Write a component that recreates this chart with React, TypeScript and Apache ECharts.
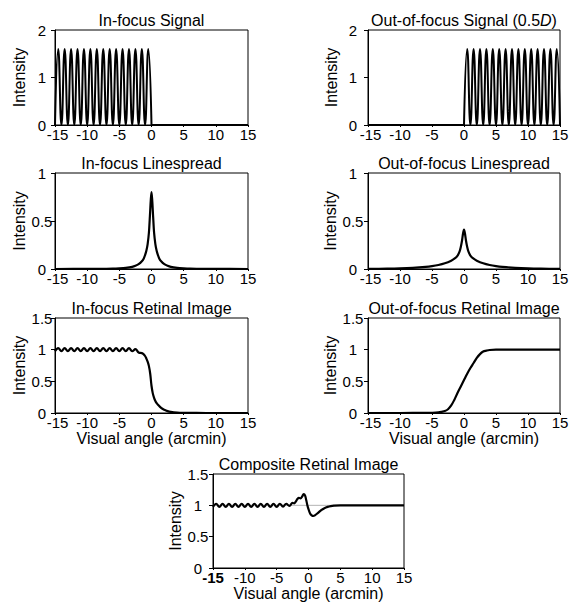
import React, { useEffect, useRef } from "react";
import * as echarts from "echarts";

// ---------- DATA ----------
const xTicks = [-15, -10, -5, 0, 5, 10, 15];

// In-focus signal: grating from -15 to 0 (peaks at half-integers), flat afterwards
const inFocusSignalX = [-15, -14.5, -14, -13.5, -13, -12.5, -12, -11.5, -11, -10.5, -10, -9.5, -9, -8.5, -8, -7.5, -7, -6.5, -6, -5.5, -5, -4.5, -4, -3.5, -3, -2.5, -2, -1.5, -1, -0.5, 0];
const inFocusSignalY = [0, 1.6, 0, 1.6, 0, 1.6, 0, 1.6, 0, 1.6, 0, 1.6, 0, 1.6, 0, 1.6, 0, 1.6, 0, 1.6, 0, 1.6, 0, 1.6, 0, 1.6, 0, 1.6, 0, 1.6, 0];
const inFocusFlatX = [0, 15];
const inFocusFlatY = [0, 0];

// Out-of-focus signal: flat from -15 to 0, grating from 0 to 15
const outFocusFlatX = [-15, 0];
const outFocusFlatY = [0, 0];
const outFocusSignalX = [0, 0.5, 1, 1.5, 2, 2.5, 3, 3.5, 4, 4.5, 5, 5.5, 6, 6.5, 7, 7.5, 8, 8.5, 9, 9.5, 10, 10.5, 11, 11.5, 12, 12.5, 13, 13.5, 14, 14.5, 15];
const outFocusSignalY = [0, 1.6, 0, 1.6, 0, 1.6, 0, 1.6, 0, 1.6, 0, 1.6, 0, 1.6, 0, 1.6, 0, 1.6, 0, 1.6, 0, 1.6, 0, 1.6, 0, 1.6, 0, 1.6, 0, 1.6, 0];

// In-focus linespread
const inFocusLsfX = [-15, -10, -8, -6, -5, -4, -3, -2.5, -2, -1.5, -1.2, -1, -0.8, -0.6, -0.4, -0.25, -0.1, 0, 0.1, 0.25, 0.4, 0.6, 0.8, 1, 1.2, 1.5, 2, 2.5, 3, 4, 5, 6, 8, 10, 15];
const inFocusLsfY = [0, 0.001, 0.002, 0.004, 0.007, 0.012, 0.022, 0.033, 0.05, 0.08, 0.11, 0.145, 0.19, 0.26, 0.38, 0.55, 0.73, 0.8, 0.73, 0.55, 0.38, 0.26, 0.19, 0.145, 0.11, 0.08, 0.05, 0.033, 0.022, 0.012, 0.007, 0.004, 0.002, 0.001, 0];

// Out-of-focus linespread
const outFocusLsfX = [-15, -12, -10, -8, -6, -5, -4, -3, -2, -1.5, -1, -0.7, -0.5, -0.3, -0.15, 0, 0.15, 0.3, 0.5, 0.7, 1, 1.5, 2, 3, 4, 5, 6, 8, 10, 12, 15];
const outFocusLsfY = [0.001, 0.003, 0.006, 0.012, 0.022, 0.03, 0.042, 0.06, 0.087, 0.107, 0.14, 0.18, 0.23, 0.3, 0.37, 0.41, 0.37, 0.3, 0.23, 0.18, 0.14, 0.107, 0.087, 0.06, 0.042, 0.03, 0.022, 0.012, 0.006, 0.003, 0.001];

// In-focus retinal image
const inFocusImageX = [-15, -14.5, -14, -13.5, -13, -12.5, -12, -11.5, -11, -10.5, -10, -9.5, -9, -8.5, -8, -7.5, -7, -6.5, -6, -5.5, -5, -4.5, -4, -3.5, -3, -2.5, -2, -1.5, -1.25, -1, -0.8, -0.6, -0.4, -0.2, 0, 0.2, 0.4, 0.6, 0.8, 1, 1.5, 2, 2.5, 3, 4, 5, 7, 10, 15];
const inFocusImageY = [0.975, 1.025, 0.975, 1.025, 0.975, 1.025, 0.975, 1.025, 0.975, 1.025, 0.975, 1.025, 0.975, 1.025, 0.975, 1.025, 0.975, 1.025, 0.975, 1.025, 0.975, 1.025, 0.975, 1.025, 0.975, 1.01, 0.955, 0.945, 0.93, 0.9, 0.86, 0.81, 0.74, 0.62, 0.43, 0.31, 0.24, 0.19, 0.155, 0.13, 0.08, 0.05, 0.03, 0.018, 0.007, 0.003, 0.001, 0, 0];

// Out-of-focus retinal image
const outFocusImageX = [-15, -10, -6, -5, -4, -3.5, -3, -2.5, -2, -1.5, -1, -0.5, 0, 0.5, 1, 1.5, 2, 2.5, 3, 3.5, 4, 5, 6, 10, 15];
const outFocusImageY = [0, 0, 0.002, 0.004, 0.01, 0.018, 0.03, 0.06, 0.12, 0.21, 0.32, 0.42, 0.52, 0.62, 0.71, 0.79, 0.87, 0.93, 0.97, 0.985, 0.995, 1, 1, 1, 1];

// Composite retinal image
const compositeX = [-15, -14.5, -14, -13.5, -13, -12.5, -12, -11.5, -11, -10.5, -10, -9.5, -9, -8.5, -8, -7.5, -7, -6.5, -6, -5.5, -5, -4.5, -4, -3.5, -3, -2.5, -2.25, -2, -1.75, -1.5, -1.25, -1, -0.75, -0.55, -0.35, -0.15, 0, 0.25, 0.5, 0.75, 1, 1.5, 2, 2.5, 3, 3.5, 4, 5, 7, 15];
const compositeY = [0.975, 1.025, 0.975, 1.025, 0.975, 1.025, 0.975, 1.025, 0.975, 1.025, 0.975, 1.025, 0.975, 1.025, 0.975, 1.025, 0.975, 1.025, 0.975, 1.025, 0.975, 1.025, 0.98, 1.025, 0.99, 1.04, 1.03, 1.06, 1.1, 1.12, 1.11, 1.14, 1.18, 1.16, 1.08, 0.99, 0.94, 0.87, 0.84, 0.83, 0.84, 0.88, 0.925, 0.955, 0.975, 0.988, 0.995, 1, 1, 1];
const compositeRefX = [-15, 15];
const compositeRefY = [1, 1];

// Titles & axis texts
const titles = [
  "In-focus Signal",
  "{n|Out-of-focus Signal (0.5}{i|D}{n|)}",
  "In-focus Linespread",
  "Out-of-focus Linespread",
  "In-focus Retinal Image",
  "Out-of-focus Retinal Image",
  "Composite Retinal Image",
];
const yMaxes = [2, 2, 1, 1, 1.5, 1.5, 1.5];
const yIntervals = [1, 1, 0.5, 0.5, 0.5, 0.5, 0.5];
const yName = "Intensity";
const xName = "Visual angle (arcmin)";

// ---------- LAYOUT ----------
const FONT = "'Liberation Sans', Arial, Helvetica, sans-serif";
const layout = [
  { left: 55, top: 30, width: 193, height: 95, lblMargin: 13, nameGap: 28, xNameShow: false },
  { left: 368, top: 30, width: 192, height: 95, lblMargin: 15, nameGap: 29, xNameShow: false },
  { left: 55, top: 173, width: 193, height: 96, lblMargin: 13, nameGap: 28, xNameShow: false },
  { left: 368, top: 173, width: 192, height: 96, lblMargin: 15, nameGap: 29, xNameShow: false },
  { left: 55, top: 318, width: 193, height: 95, lblMargin: 13, nameGap: 28, xNameShow: true },
  { left: 368, top: 318, width: 192, height: 95, lblMargin: 15, nameGap: 29, xNameShow: true },
  { left: 213, top: 474, width: 191, height: 94, lblMargin: 15, nameGap: 30, xNameShow: true },
];

const zip = (xs: number[], ys: number[]) => xs.map((x, i) => [x, ys[i]]);

function lineSeries(idx: number, xs: number[], ys: number[], smooth: number | boolean, width = 2.2, extra: any = {}) {
  return {
    type: "line",
    xAxisIndex: idx,
    yAxisIndex: idx,
    data: zip(xs, ys),
    smooth,
    showSymbol: false,
    symbol: "none",
    silent: true,
    z: 3,
    lineStyle: { color: "#000", width, join: "round" },
    ...extra,
  };
}

export default function App() {
  const ref = useRef<HTMLDivElement>(null);
  useEffect(() => {
    if (!ref.current) return;
    const chart = echarts.init(ref.current, null, { renderer: "svg" });

    const grid = layout.map((l) => ({
      left: l.left,
      top: l.top,
      width: l.width,
      height: l.height,
      show: true,
      borderColor: "#000",
      borderWidth: 1,
      backgroundColor: "transparent",
      containLabel: false,
      outerBoundsMode: "none",
    }));

    const labelRich = {
      b: { fontWeight: "bold", fontSize: 15, fontFamily: FONT, color: "#000" },
      m: { fontSize: 15, fontFamily: FONT, color: "#000", padding: [0, 0, 0, 5] },
    };

    const xAxis = layout.map((l, i) => ({
      type: "value",
      gridIndex: i,
      min: xTicks[0],
      max: xTicks[xTicks.length - 1],
      interval: 5,
      axisLine: { show: true, onZero: false, lineStyle: { color: "#000", width: 1 } },
      axisTick: { show: true, length: 2, lineStyle: { color: "#000" } },
      splitLine: { show: false },
      axisLabel: {
        color: "#000",
        fontSize: 15,
        fontFamily: FONT,
        margin: 2,
        formatter: (v: number) =>
          v === xTicks[0] ? (i === 6 ? "{b|" + v + "}" : "{m|" + v + "}") : String(v),
        rich: labelRich,
      },
      name: l.xNameShow ? xName : "",
      nameLocation: "middle",
      nameGap: i === 6 ? 14 : 15,
      nameTextStyle: { color: "#000", fontSize: 16, fontFamily: FONT },
    }));

    const yAxis = layout.map((l, i) => ({
      type: "value",
      gridIndex: i,
      min: 0,
      max: yMaxes[i],
      interval: yIntervals[i],
      axisLine: { show: true, onZero: false, lineStyle: { color: "#000", width: 1 } },
      axisTick: { show: true, length: 4, lineStyle: { color: "#000" } },
      splitLine: { show: false },
      axisLabel: { color: "#000", fontSize: 15, fontFamily: FONT, margin: l.lblMargin, align: "center" },
      name: yName,
      nameLocation: "middle",
      nameGap: l.nameGap,
      nameTextStyle: { color: "#000", fontSize: 16, fontFamily: FONT },
    }));

    const graphic = layout.map((l, i) => ({
      type: "text",
      x: l.left + l.width / 2,
      y: l.top - 10,
      silent: true,
      style: {
        text: titles[i],
        fill: "#000",
        fontSize: 16,
        fontFamily: FONT,
        align: "center",
        verticalAlign: "middle",
        rich: {
          n: { fontSize: 16, fontFamily: FONT, fill: "#000" },
          i: { fontSize: 16, fontFamily: FONT, fontStyle: "italic", fill: "#000" },
        },
      },
    }));

    const series = [
      lineSeries(0, inFocusSignalX, inFocusSignalY, 0.5, 2),
      lineSeries(0, inFocusFlatX, inFocusFlatY, false, 2),
      lineSeries(1, outFocusFlatX, outFocusFlatY, false, 2),
      lineSeries(1, outFocusSignalX, outFocusSignalY, 0.5, 2),
      lineSeries(2, inFocusLsfX, inFocusLsfY, 0.3),
      lineSeries(3, outFocusLsfX, outFocusLsfY, 0.3),
      lineSeries(4, inFocusImageX, inFocusImageY, 0.4),
      lineSeries(5, outFocusImageX, outFocusImageY, 0.4),
      lineSeries(6, compositeRefX, compositeRefY, false, 1, { z: 1, lineStyle: { color: "#b4b4b4", width: 1 } }),
      lineSeries(6, compositeX, compositeY, 0.4),
    ];

    chart.setOption({
      animation: false,
      backgroundColor: "#fff",
      grid,
      xAxis,
      yAxis,
      series,
      graphic,
    });
    return () => chart.dispose();
  }, []);
  return (
    <div
      ref={ref}
      style={{ position: "absolute", left: 0, top: 0, width: 571, height: 608, background: "#fff" }}
    />
  );
}
